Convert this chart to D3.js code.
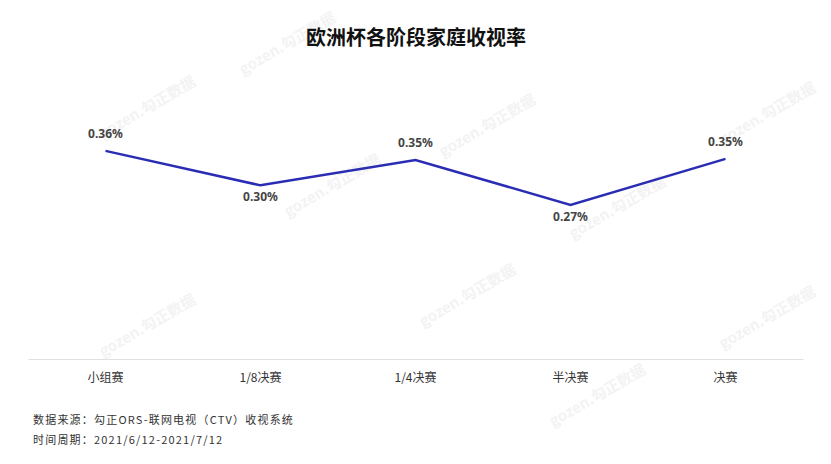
<!DOCTYPE html>
<html><head><meta charset="utf-8">
<script src="https://cdn.jsdelivr.net/npm/d3@7"></script>
<style>
body{margin:0;background:#fff;}
svg{display:block;font-family:"Noto Sans CJK SC","Noto Sans",sans-serif;}
</style></head>
<body><svg id="c" width="831" height="464"></svg>
<script>
const title = "欧洲杯各阶段家庭收视率";
const categories = ["小组赛","1/8决赛","1/4决赛","半决赛","决赛"];
const ratings = [0.362, 0.302, 0.346, 0.268, 0.348];
const notes = ["数据来源：勾正ORS-联网电视（CTV）收视系统","时间周期：2021/6/12-2021/7/12"];
const watermarks = [[150,112],[335,190],[490,130],[620,212],[770,118],[150,330],[770,322],[290,48],[600,400],[470,300]];

const svg = d3.select("#c");
const left = 28, right = 803, bottom = 359;
const x = d3.scaleBand().domain(categories).range([left, right]);
const y = d3.scaleLinear().domain([0, 0.5]).range([bottom, bottom - 0.5*575]);

// watermarks
const wm = svg.append("g").attr("fill","#f3f3f3").attr("font-size",15).attr("font-weight","bold");
wm.selectAll("text").data(watermarks).join("text")
  .attr("transform", d => `translate(${d[0]},${d[1]}) rotate(-30)`)
  .attr("text-anchor","middle").text("gozen.勾正数据");

svg.append("text").attr("x",416).attr("y",45).attr("text-anchor","middle")
  .attr("font-size",20).attr("font-weight","bold").attr("fill","#111").text(title);

// axis
const ax = svg.append("g").attr("transform",`translate(0,${bottom})`)
  .call(d3.axisBottom(x).tickSize(0).tickPadding(14));
ax.select(".domain").attr("stroke","#e0e0e0");
ax.selectAll("text").attr("font-size",12).attr("fill","#333")
  .attr("font-family",'"Noto Sans CJK SC","Noto Sans",sans-serif');

const cx = d => x(d) + x.bandwidth()/2;
const line = d3.line().x((d,i)=>cx(categories[i])).y(d=>y(d));
svg.append("path").datum(ratings).attr("d",line).attr("fill","none")
  .attr("stroke","#2a2db4").attr("stroke-width",2.5);

svg.append("g").selectAll("text").data(ratings).join("text")
  .attr("x",(d,i)=>cx(categories[i]))
  .attr("y",(d,i)=>{
    const prev = i>0?ratings[i-1]:-1, next = i<ratings.length-1?ratings[i+1]:-1;
    const isMin = (i>0 && d<prev) && (i<ratings.length-1 ? d<next : true);
    return isMin ? y(d)+16 : y(d)-13;
  })
  .attr("text-anchor","middle").attr("font-size",12).attr("font-weight","bold")
  .attr("fill","#444").attr("font-family",'"Noto Sans","Noto Sans CJK SC",sans-serif')
  .text(d=>d.toFixed(2)+"%");

svg.append("g").selectAll("text").data(notes).join("text")
  .attr("x",33).attr("y",(d,i)=>424+i*20)
  .attr("font-size",11).attr("letter-spacing","1.2px").attr("fill","#333").text(d=>d);
</script></body></html>
